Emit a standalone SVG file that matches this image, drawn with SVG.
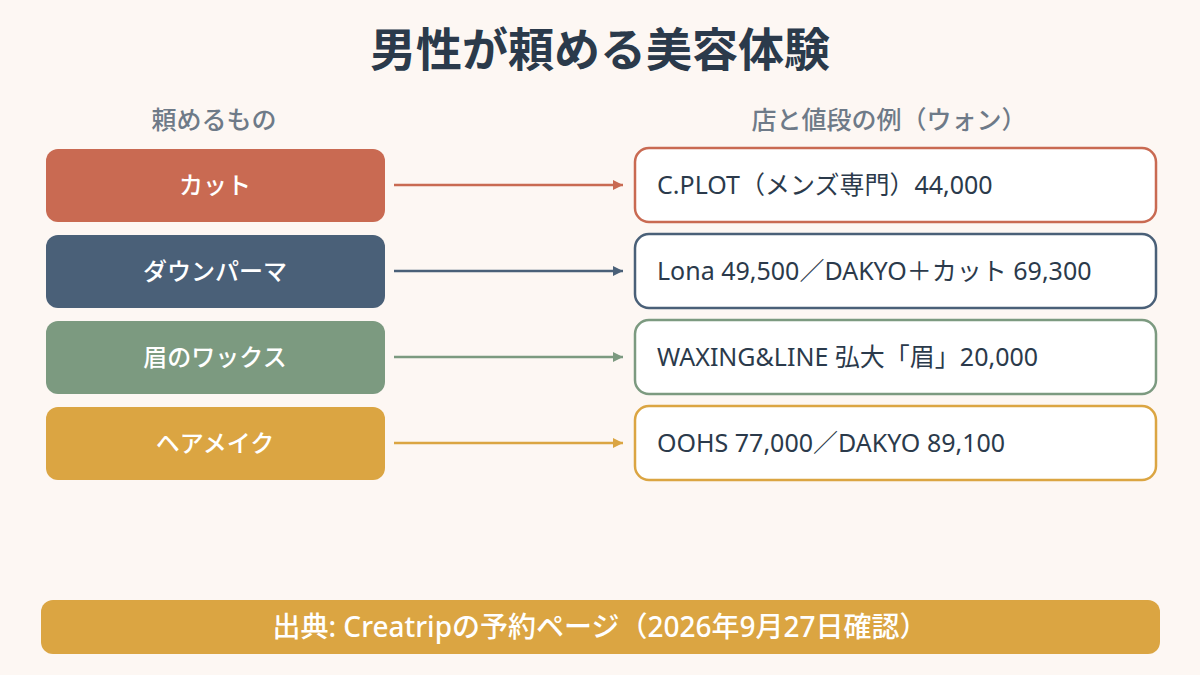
<svg xmlns="http://www.w3.org/2000/svg" width="1200" height="675" viewBox="0 0 1200 675">
<style>
text{font-family:"Noto Sans","Noto Sans CJK JP",sans-serif}
.title{font-size:46px;font-weight:700;fill:#2b3a4b;text-anchor:middle}
.hdr{font-size:25px;font-weight:500;fill:#6e7a88;text-anchor:middle}
.lbl{font-size:24px;font-weight:500;fill:#ffffff;text-anchor:middle}
.val{font-size:25px;fill:#2b3a4b}
.rbox{fill:#ffffff;stroke-width:2.5}
.foot{font-size:28px;font-weight:500;fill:#ffffff;text-anchor:middle}
</style>
<defs>
<marker id="a1" viewBox="0 0 10 10" refX="10" refY="5" markerWidth="10" markerHeight="10" markerUnits="userSpaceOnUse" orient="auto"><path d="M0,0 L10,5 L0,10 Z" fill="#c96a52"/></marker>
<marker id="a2" viewBox="0 0 10 10" refX="10" refY="5" markerWidth="10" markerHeight="10" markerUnits="userSpaceOnUse" orient="auto"><path d="M0,0 L10,5 L0,10 Z" fill="#4a6078"/></marker>
<marker id="a3" viewBox="0 0 10 10" refX="10" refY="5" markerWidth="10" markerHeight="10" markerUnits="userSpaceOnUse" orient="auto"><path d="M0,0 L10,5 L0,10 Z" fill="#7c9a80"/></marker>
<marker id="a4" viewBox="0 0 10 10" refX="10" refY="5" markerWidth="10" markerHeight="10" markerUnits="userSpaceOnUse" orient="auto"><path d="M0,0 L10,5 L0,10 Z" fill="#dba542"/></marker>
</defs>
<rect width="1200" height="675" fill="#fdf7f3"/>
<text class="title" x="600" y="66">男性が頼める美容体験</text>
<text class="hdr" x="214" y="129">頼めるもの</text>
<text class="hdr" x="889" y="129">店と値段の例（ウォン）</text>

<g id="cut">
<rect x="46" y="149" width="339" height="73" rx="12" fill="#c96a52"/>
<text class="lbl" x="215" y="194">カット</text>
</g>
<g id="perm">
<rect x="46" y="235" width="339" height="73" rx="12" fill="#4a6078"/>
<text class="lbl" x="215" y="280">ダウンパーマ</text>
</g>
<g id="brow">
<rect x="46" y="321" width="339" height="73" rx="12" fill="#7c9a80"/>
<text class="lbl" x="215" y="366">眉のワックス</text>
</g>
<g id="makeup">
<rect x="46" y="407" width="339" height="73" rx="12" fill="#dba542"/>
<text class="lbl" x="215" y="452">ヘアメイク</text>
</g>

<g id="price-cut">
<rect class="rbox" x="635" y="148" width="521" height="74" rx="14" stroke="#c96a52"/>
<text class="val" x="657" y="194">C.PLOT（メンズ専門）44,000</text>
</g>
<g id="price-perm">
<rect class="rbox" x="635" y="234" width="521" height="74" rx="14" stroke="#4a6078"/>
<text class="val" x="657" y="280">Lona 49,500／DAKYO＋カット 69,300</text>
</g>
<g id="price-brow">
<rect class="rbox" x="635" y="320" width="521" height="74" rx="14" stroke="#7c9a80"/>
<text class="val" x="657" y="366">WAXING&amp;LINE 弘大「眉」20,000</text>
</g>
<g id="price-makeup">
<rect class="rbox" x="635" y="406" width="521" height="74" rx="14" stroke="#dba542"/>
<text class="val" x="657" y="452">OOHS 77,000／DAKYO 89,100</text>
</g>

<g id="connectors" stroke-width="2.5" fill="none">
<line x1="394" y1="185" x2="623" y2="185" stroke="#c96a52" marker-end="url(#a1)"/>
<line x1="394" y1="271" x2="623" y2="271" stroke="#4a6078" marker-end="url(#a2)"/>
<line x1="394" y1="357" x2="623" y2="357" stroke="#7c9a80" marker-end="url(#a3)"/>
<line x1="394" y1="443" x2="623" y2="443" stroke="#dba542" marker-end="url(#a4)"/>
</g>

<g id="footer">
<rect x="41" y="600" width="1119" height="54" rx="12" fill="#dba542"/>
<text class="foot" x="600" y="637">出典: Creatripの予約ページ（2026年9月27日確認）</text>
</g>
</svg>
